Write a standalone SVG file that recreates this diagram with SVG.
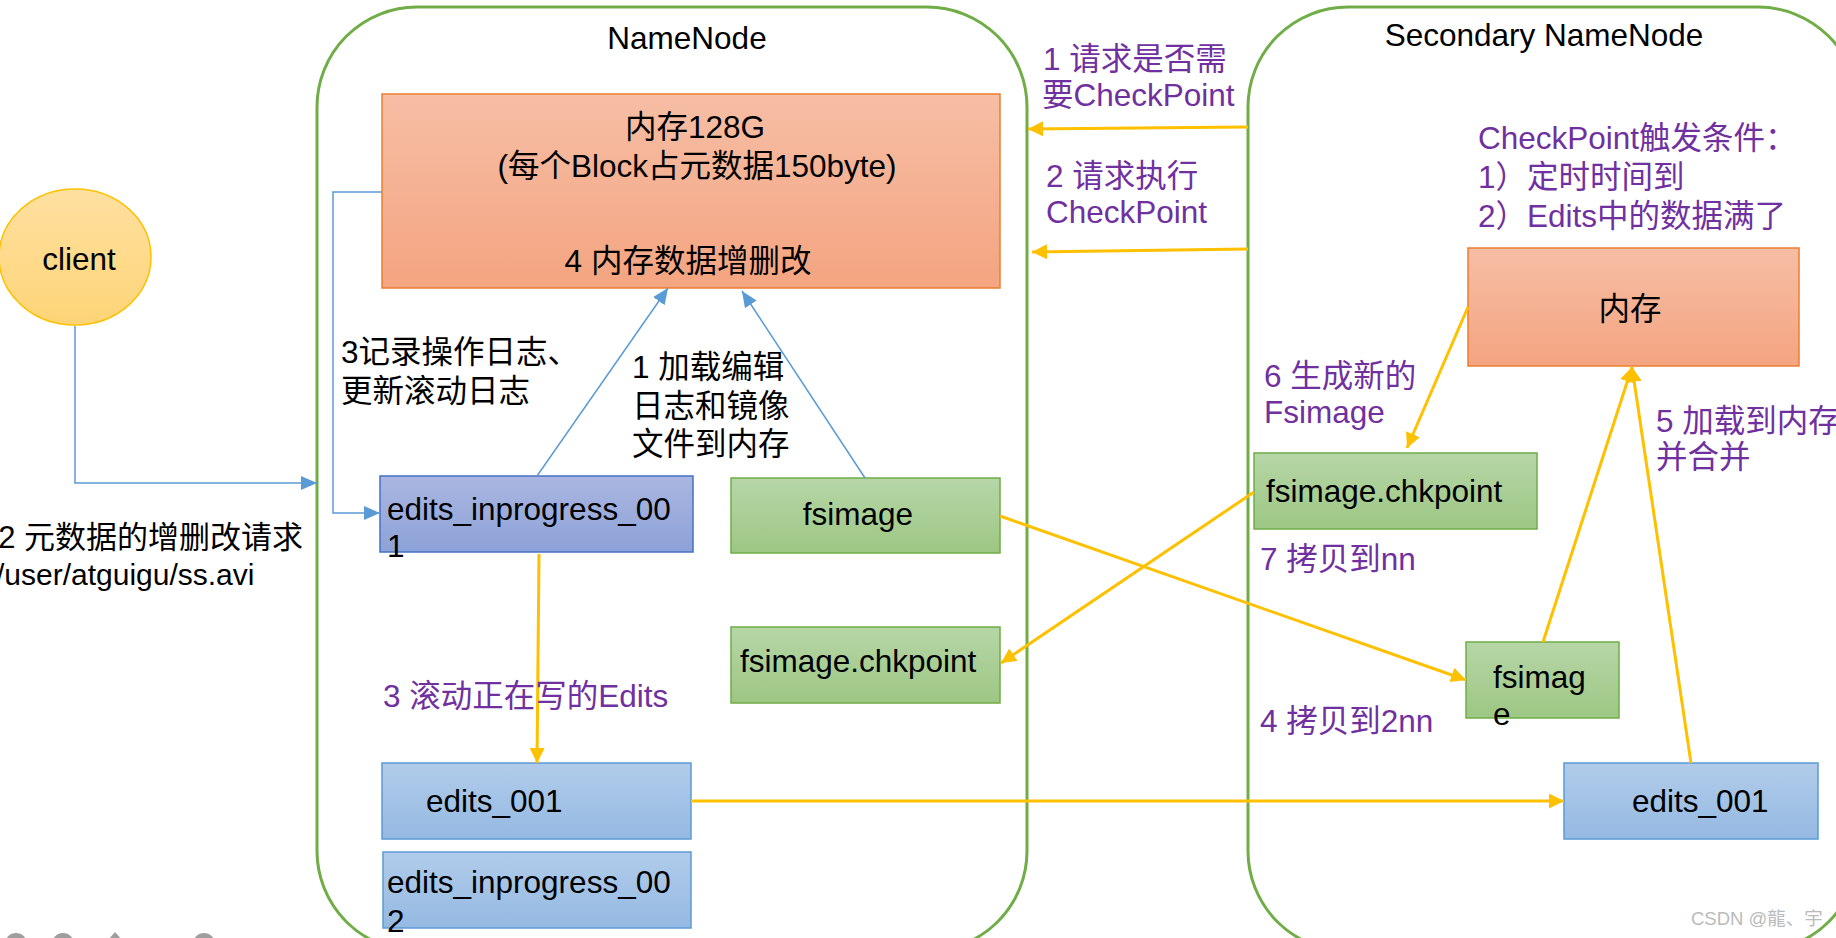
<svg xmlns="http://www.w3.org/2000/svg" width="1836" height="938" viewBox="0 0 1836 938">
<defs>
<style>
text{font-family:'Liberation Sans','Noto Sans CJK SC',sans-serif;font-size:31.5px;fill:#000}
.pur{fill:#7030A0}
.mid{text-anchor:middle}
.container{fill:none;stroke:#70AD47;stroke-width:3}
.orange{fill:url(#gOrange);stroke:#ED7D31;stroke-width:1.5}
.green{fill:url(#gGreen);stroke:#70AD47;stroke-width:1.5}
.purpleblue{fill:url(#gPurple);stroke:#4472C4;stroke-width:1.5}
.blue{fill:url(#gBlue);stroke:#5B9BD5;stroke-width:1.5}
.ya{fill:none;stroke:#FFC000;stroke-width:3;marker-end:url(#mY)}
.ba{fill:none;stroke:#5B9BD5;stroke-width:1.5;marker-end:url(#mB)}
.icon{fill:#9E9E9E}
</style>
<linearGradient id="gOrange" x1="0" y1="0" x2="0" y2="1"><stop offset="0" stop-color="#F6BEA5"/><stop offset="1" stop-color="#F4A480"/></linearGradient>
<linearGradient id="gGreen" x1="0" y1="0" x2="0" y2="1"><stop offset="0" stop-color="#B6D6A7"/><stop offset="1" stop-color="#9DC784"/></linearGradient>
<linearGradient id="gPurple" x1="0" y1="0" x2="0" y2="1"><stop offset="0" stop-color="#AAB6E0"/><stop offset="1" stop-color="#8DA2D8"/></linearGradient>
<linearGradient id="gBlue" x1="0" y1="0" x2="0" y2="1"><stop offset="0" stop-color="#B1CCEA"/><stop offset="1" stop-color="#95B9E2"/></linearGradient>
<linearGradient id="gClient" x1="0" y1="0" x2="0" y2="1"><stop offset="0" stop-color="#FEE0A0"/><stop offset="1" stop-color="#FDD477"/></linearGradient>
<marker id="mY" markerUnits="userSpaceOnUse" markerWidth="16" markerHeight="16" refX="15" refY="7.5" orient="auto"><path d="M0,0 L15,7.5 L0,15 z" fill="#FFC000"/></marker>
<marker id="mB" markerUnits="userSpaceOnUse" markerWidth="17" markerHeight="16" refX="16" refY="7" orient="auto"><path d="M0,0 L16,7 L0,14 z" fill="#5B9BD5"/></marker>
</defs>
<rect width="1836" height="938" fill="#fff"/>

<g id="namenode">
<rect class="container" x="317" y="7" width="710" height="944" rx="100" ry="100"/>
<text class="mid" x="687" y="49">NameNode</text>
</g>
<g id="secondary-namenode">
<rect class="container" x="1248" y="7" width="610" height="944" rx="100" ry="100"/>
<text class="mid" x="1544" y="46">Secondary NameNode</text>
</g>

<g id="client">
<ellipse cx="75" cy="257" rx="76" ry="68" fill="url(#gClient)" stroke="#FFC000" stroke-width="1.5"/>
<text class="mid" x="79" y="270">client</text>
</g>

<g id="nn-memory">
<rect class="orange" x="382" y="94" width="618" height="194"/>
<text class="mid" x="695" y="138">内存128G</text>
<text class="mid" x="697" y="177">(每个Block占元数据150byte)</text>
<text class="mid" x="688" y="272">4 内存数据增删改</text>
</g>

<g id="nn-edits-inprogress-001">
<rect class="purpleblue" x="380" y="476" width="313" height="76"/>
<text x="387" y="520">edits_inprogress_00</text>
<text x="387" y="557">1</text>
</g>
<g id="nn-fsimage">
<rect class="green" x="731" y="478" width="269" height="75"/>
<text class="mid" x="858" y="525">fsimage</text>
</g>
<g id="nn-fsimage-chkpoint">
<rect class="green" x="731" y="627" width="269" height="76"/>
<text x="740" y="672">fsimage.chkpoint</text>
</g>
<g id="nn-edits-001">
<rect class="blue" x="382" y="763" width="309" height="76"/>
<text x="426" y="812">edits_001</text>
</g>
<g id="nn-edits-inprogress-002">
<rect class="blue" x="383" y="852" width="308" height="76"/>
<text x="387" y="893">edits_inprogress_00</text>
<text x="387" y="932">2</text>
</g>

<g id="snn-memory">
<rect class="orange" x="1468" y="248" width="331" height="118"/>
<text class="mid" x="1630" y="320">内存</text>
</g>
<g id="snn-fsimage-chkpoint">
<rect class="green" x="1254" y="453" width="283" height="76"/>
<text x="1266" y="502">fsimage.chkpoint</text>
</g>
<g id="snn-fsimage">
<rect class="green" x="1466" y="642" width="153" height="76"/>
<text x="1493" y="688">fsimag</text>
<text x="1493" y="725">e</text>
</g>
<g id="snn-edits-001">
<rect class="blue" x="1564" y="763" width="254" height="76"/>
<text x="1632" y="812">edits_001</text>
</g>

<g id="connectors">
<path class="ba" d="M75,326 V483 H317"/>
<path class="ba" d="M382,192 H333 V513 H380"/>
<path class="ba" d="M537,476 L668,288"/>
<path class="ba" d="M865,478 L742,291"/>
<path class="ya" d="M539,554 L537,763"/>
<path class="ya" d="M691,801 L1564,801"/>
<path class="ya" d="M1000,516 L1466,680"/>
<path class="ya" d="M1254,492 L1001,663"/>
<path class="ya" d="M1248,127 L1028,129"/>
<path class="ya" d="M1248,249 L1032,252"/>
<path class="ya" d="M1468,307 L1407,448"/>
<path class="ya" d="M1543,642 L1632,367"/>
<path class="ya" d="M1691,763 L1632,367"/>
</g>

<g id="labels">
<text x="303" y="548" style="text-anchor:end;font-size:31px">2 元数据的增删改请求</text>
<text x="-4" y="585" style="font-size:30px">/user/atguigu/ss.avi</text>
<text x="341" y="363">3记录操作日志、</text>
<text x="341" y="402">更新滚动日志</text>
<text x="632" y="378">1 加载编辑</text>
<text x="632" y="417">日志和镜像</text>
<text x="632" y="455">文件到内存</text>
<text class="pur" x="383" y="707">3 滚动正在写的Edits</text>
<text class="pur" x="1043" y="70">1 请求是否需</text>
<text class="pur" x="1042" y="106">要CheckPoint</text>
<text class="pur" x="1046" y="187">2 请求执行</text>
<text class="pur" x="1046" y="223">CheckPoint</text>
<text class="pur" x="1478" y="149">CheckPoint触发条件：</text>
<text class="pur" x="1478" y="188">1）定时时间到</text>
<text class="pur" x="1478" y="227">2）Edits中的数据满了</text>
<text class="pur" x="1264" y="387">6 生成新的</text>
<text class="pur" x="1264" y="423">Fsimage</text>
<text class="pur" x="1656" y="432">5 加载到内存</text>
<text class="pur" x="1656" y="468">并合并</text>
<text class="pur" x="1260" y="570">7 拷贝到nn</text>
<text class="pur" x="1260" y="732">4 拷贝到2nn</text>
</g>

<g id="watermark">
<text x="1691" y="925" style="font-size:18.5px;fill:#BBBBBB">CSDN @龍、宇</text>
<circle class="icon" cx="16" cy="944" r="11"/>
<circle class="icon" cx="63" cy="944" r="11"/>
<path class="icon" d="M108,940 L115,932 L122,940 z"/>
<circle class="icon" cx="204" cy="944" r="11"/>
</g>
</svg>
